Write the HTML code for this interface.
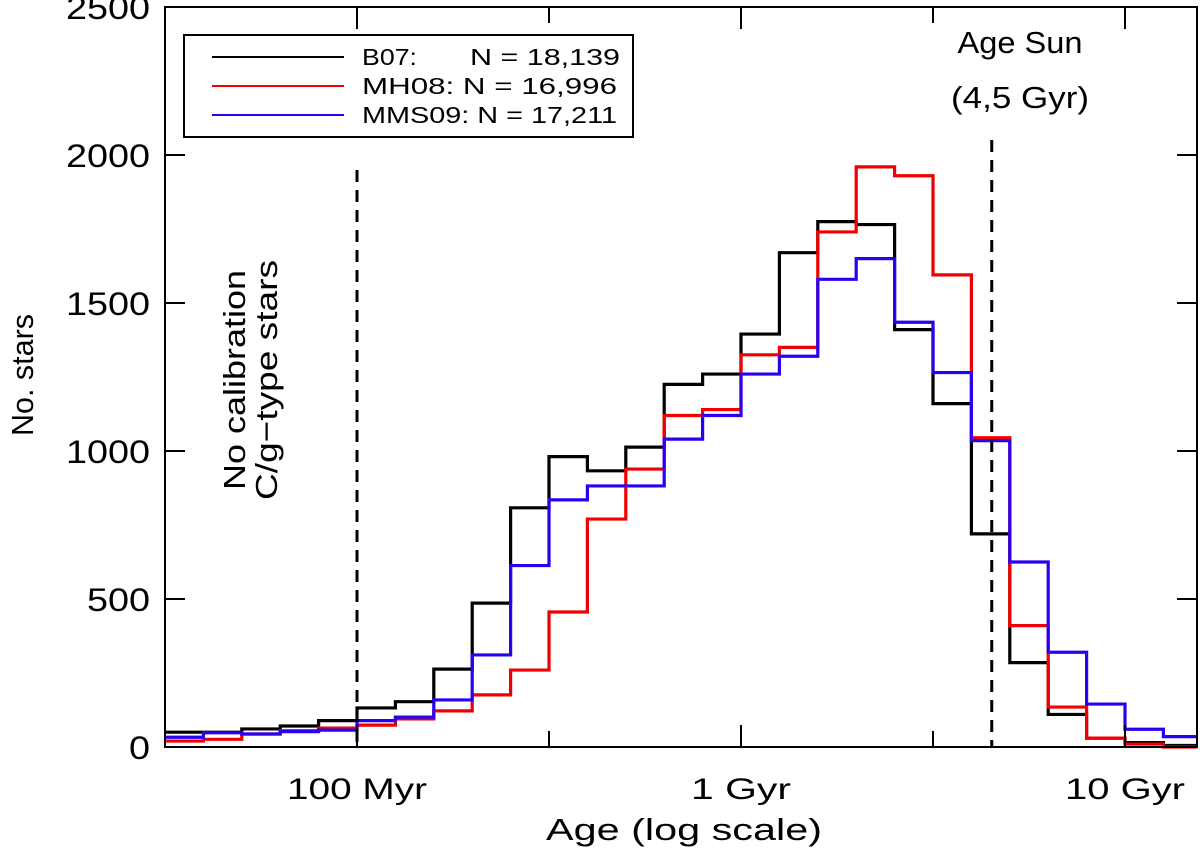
<!DOCTYPE html>
<html><head><meta charset="utf-8"><style>
body{margin:0;background:#fff}
svg text{font-family:"Liberation Sans",sans-serif;fill:#000}
</style></head><body>
<svg id="chart" width="1200" height="855" viewBox="0 0 1200 855" xmlns="http://www.w3.org/2000/svg">
<g id="plot"></g>
</svg>
<script>
const binStarts=[7.5,7.6,7.7,7.8,7.9,8.0,8.1,8.2,8.3,8.4,8.5,8.6,8.7,8.8,8.9,9.0,9.1,9.2,9.3,9.4,9.5,9.6,9.7,9.8,9.9,10.0,10.1];
const b07=[50,50,61,71,89,132,153,263,486,808,981,933,1013,1225,1260,1395,1670,1775,1765,1410,1160,720,285,110,30,15,5];
const mh08=[20,26,44,55,64,74,95,122,176,260,456,770,939,1120,1140,1325,1350,1740,1960,1930,1595,1045,410,135,30,10,0];
const mms09=[33,48,44,52,57,89,101,159,311,613,835,882,882,1040,1120,1260,1320,1580,1650,1435,1265,1035,625,320,145,60,35];
const yTicks=[0,500,1000,1500,2000,2500];
const xTickLabels=["100 Myr","1 Gyr","10 Gyr"];
const xTickLogs=[8,9,10];
const binWidth=0.1;
const sunLog=9.653;

const L=165,R=1197,T=7,B=747;
const X=v=>357+(v-8)*384;
const Y=v=>B-(v/2500)*(B-T);
const NS="http://www.w3.org/2000/svg";
const g=document.getElementById('plot');
function mk(tag,attrs,parent){const e=document.createElementNS(NS,tag);for(const k in attrs)e.setAttribute(k,attrs[k]);(parent||g).appendChild(e);return e;}

function hist(vals,color,name){
  let d="";
  vals.forEach((v,i)=>{const x0=X(binStarts[i]),x1=X(binStarts[i]+binWidth),y=Y(v);
    d+=(i===0?"M"+Math.max(x0,L)+","+y:"L"+x0+","+y)+"L"+Math.min(x1,R)+","+y;});
  const p=mk('path',{d:d,fill:'none',stroke:color,'stroke-width':3.2});
  
  
}
hist(b07,'#000','series-b07');
hist(mh08,'#f00000','series-mh08');
hist(mms09,'#2a00f0','series-mms09');

const d1=mk('line',{x1:X(8),x2:X(8),y1:170,y2:B,stroke:'#000','stroke-width':3,'stroke-dasharray':'12,8'});


const d2=mk('line',{x1:X(sunLog),x2:X(sunLog),y1:140,y2:B,stroke:'#000','stroke-width':3,'stroke-dasharray':'12,8'});



const fr=mk('rect',{x:L,y:T,width:R-L,height:B-T,fill:'none',stroke:'#000','stroke-width':2});



yTicks.forEach(v=>{
  const y=Y(v);
  mk('line',{x1:L,x2:L+20,y1:y,y2:y,stroke:'#000','stroke-width':2});
  mk('line',{x1:R-20,x2:R,y1:y,y2:y,stroke:'#000','stroke-width':2});
  const s=String(v);
  const t=mk('text',{x:150,y:y+12,'text-anchor':'end','font-size':32,textLength:s.length*21,lengthAdjust:'spacingAndGlyphs'});
  t.textContent=s;
  
  
});
for(let lv=8;lv<=10.01;lv+=0.5){
  const x=X(lv),len=(Math.abs(lv-Math.round(lv))<0.01)?22:16;
  mk('line',{x1:x,x2:x,y1:B,y2:B-len,stroke:'#000','stroke-width':2});
  mk('line',{x1:x,x2:x,y1:T,y2:T+len,stroke:'#000','stroke-width':2});
}
xTickLabels.forEach((s,i)=>{
  const t=mk('text',{x:X(xTickLogs[i]),y:799,'text-anchor':'middle','font-size':30,textLength:s.length*20,lengthAdjust:'spacingAndGlyphs'});
  t.textContent=s;
  
  
});
</script>
<svg style="position:absolute;left:0;top:0" width="1200" height="855">
<text x="684" y="840" text-anchor="middle" font-size="31" textLength="276" lengthAdjust="spacingAndGlyphs">Age (log scale)</text>
<text transform="translate(33,375) rotate(-90)" text-anchor="middle" font-size="31" textLength="122" lengthAdjust="spacingAndGlyphs">No. stars</text>
<text transform="translate(245,380) rotate(-90)" text-anchor="middle" font-size="31" textLength="220" lengthAdjust="spacingAndGlyphs">No calibration</text>
<text transform="translate(277,380) rotate(-90)" text-anchor="middle" font-size="31" textLength="240" lengthAdjust="spacingAndGlyphs">C/g−type stars</text>
<text x="1020" y="53" text-anchor="middle" font-size="31" textLength="125" lengthAdjust="spacingAndGlyphs">Age Sun</text>
<text x="1020" y="108" text-anchor="middle" font-size="31" textLength="138" lengthAdjust="spacingAndGlyphs">(4,5 Gyr)</text>
<g>
<rect x="184" y="35" width="449" height="102" fill="#fff" stroke="#000" stroke-width="2"/>
<line x1="212" x2="344" y1="57" y2="57" stroke="#000" stroke-width="2"/>
<line x1="212" x2="344" y1="86" y2="86" stroke="#f00000" stroke-width="2"/>
<line x1="212" x2="344" y1="115" y2="115" stroke="#2a00f0" stroke-width="2"/>
<text x="362" y="65" font-size="23" textLength="55" lengthAdjust="spacingAndGlyphs">B07:</text>
<text x="620" y="65" text-anchor="end" font-size="23" textLength="150" lengthAdjust="spacingAndGlyphs">N = 18,139</text>
<text x="362" y="94" font-size="23" textLength="255" lengthAdjust="spacingAndGlyphs">MH08:  N = 16,996</text>
<text x="362" y="123" font-size="23" textLength="255" lengthAdjust="spacingAndGlyphs">MMS09: N = 17,211</text>
</g>
</svg>
</body></html>
